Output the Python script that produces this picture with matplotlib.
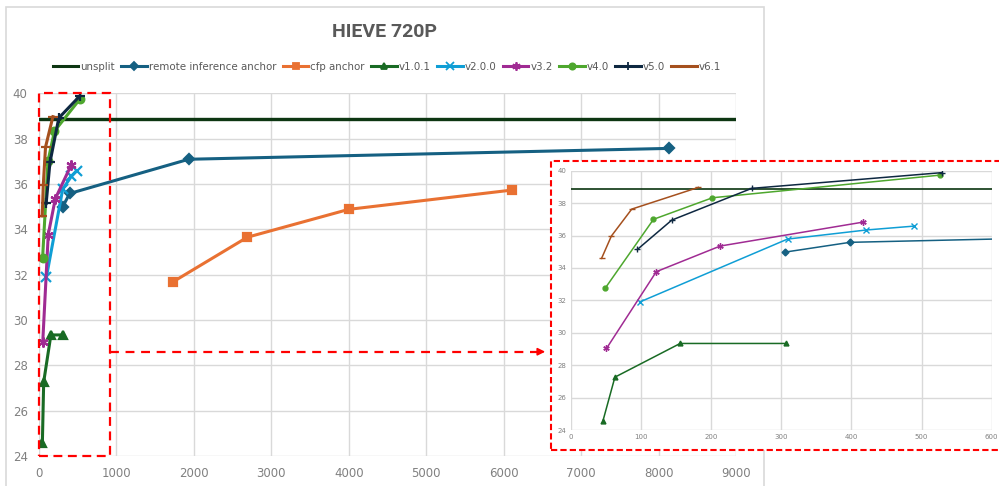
import matplotlib
matplotlib.use("Agg")
import matplotlib.pyplot as plt
from matplotlib.lines import Line2D
from matplotlib.patches import Rectangle

# series data (x, psnr)
unsplit_x = [0, 9000]
unsplit_y = [38.85, 38.85]
remote_x = [306, 398, 1934, 8132]
remote_y = [34.98, 35.58, 37.09, 37.57]
cfp_x = [1735, 2690, 3999, 6102]
cfp_y = [31.69, 33.65, 34.88, 35.73]
v101_x = [46, 63, 156, 307]
v101_y = [24.57, 27.26, 29.34, 29.34]
v200_x = [99, 309, 421, 489]
v200_y = [31.91, 35.78, 36.34, 36.58]
v32_x = [51, 122, 213, 417]
v32_y = [29.03, 33.77, 35.35, 36.83]
v40_x = [49, 118, 202, 527]
v40_y = [32.74, 37.0, 38.33, 39.73]
v50_x = [95, 144, 258, 529]
v50_y = [35.14, 36.95, 38.91, 39.88]
v61_x = [44, 58, 87, 182]
v61_y = [34.59, 35.97, 37.63, 38.97]

STAR = (6, 2, 0)
SERIES = [
    ("unsplit", unsplit_x, unsplit_y, "#0d3612", "_"),
    ("remote inference anchor", remote_x, remote_y, "#156082", "D"),
    ("cfp anchor", cfp_x, cfp_y, "#E97132", "s"),
    ("v1.0.1", v101_x, v101_y, "#196B24", "^"),
    ("v2.0.0", v200_x, v200_y, "#0F9ED5", "x"),
    ("v3.2", v32_x, v32_y, "#A02B93", STAR),
    ("v4.0", v40_x, v40_y, "#4EA72E", "o"),
    ("v5.0", v50_x, v50_y, "#0E2841", "+"),
    ("v6.1", v61_x, v61_y, "#A5501E", "_"),
]

W, H = 999, 486
TEXT_GREY = "#595959"
TICK_GREY = "#808080"
GRID = "#d9d9d9"
RED = "#ff0000"


def fx(px):
    return px / W


def fy(py):
    return 1 - py / H


def is_thin(marker):
    return marker in ("_", "+", "x") or marker == STAR


def draw_series(ax, lw, ms, mew):
    for label, xs, ys, color, marker in SERIES:
        if label == "unsplit":
            ax.plot(xs, ys, color=color, lw=lw * 1.1, zorder=3)
            continue
        size = ms * 1.3 if is_thin(marker) else ms
        ax.plot(xs, ys, color=color, lw=lw, marker=marker, markersize=size,
                markeredgewidth=mew, zorder=3)


def style_axes(ax, xmax, xstep, fontsize, pad):
    ax.set_xlim(0, xmax)
    ax.set_ylim(24, 40)
    ax.set_xticks(range(0, xmax + 1, xstep))
    ax.set_yticks(range(24, 41, 2))
    ax.grid(True, color=GRID, lw=1.0, zorder=0)
    ax.set_axisbelow(True)
    for s in ax.spines.values():
        s.set_visible(False)
    ax.tick_params(length=0, labelsize=fontsize, labelcolor=TICK_GREY, pad=pad)


fig = plt.figure(figsize=(W / 100, H / 100), dpi=100)
fig.patch.set_facecolor("white")

# Excel chart frame
fig.patches.append(Rectangle((fx(6), fy(492)), fx(758), 485 / H, transform=fig.transFigure,
                             fill=False, ec="#d9d9d9", lw=1.2, zorder=0))

ax = fig.add_axes([fx(38.8), fy(456), fx(697.5), (456 - 93.3) / H])
draw_series(ax, lw=2.2, ms=5.5, mew=1.6)
style_axes(ax, 9000, 1000, 8.5, 8)

# zoom box and arrow
ax.add_patch(Rectangle((0, 24), 920, 16, fill=False, ec=RED, lw=1.6, ls=(0, (4, 2.5)),
                       clip_on=False, zorder=4))
ax.plot([920, 6520], [28.6, 28.6], color=RED, lw=1.6, ls=(0, (4, 3)), clip_on=False, zorder=4)
ax.annotate("", xy=(6570, 28.6), xytext=(6400, 28.6),
            arrowprops=dict(arrowstyle="-|>", color=RED, lw=1.2, mutation_scale=11),
            annotation_clip=False, zorder=4)

# inset panel
fig.patches.append(Rectangle((fx(551), fy(449.5)), fx(460), (449.5 - 161) / H,
                             transform=fig.transFigure, fc="white", ec=RED, lw=1.5,
                             ls=(0, (3, 1.5)), zorder=1))

axin = fig.add_axes([fx(570.7), fy(430), fx(421), (430 - 170.7) / H], zorder=2)
axin.patch.set_alpha(0)
draw_series(axin, lw=1.1, ms=3.5, mew=1.0)
style_axes(axin, 600, 100, 5, 3)

# title and legend
fig.text(fx(385), fy(32), "HIEVE 720P", ha="center", va="center", fontsize=14,
         fontweight="bold", color=TEXT_GREY, family="Roboto")

handles = []
for label, xs, ys, color, marker in SERIES:
    size = 6 if is_thin(marker) else 4.5
    handles.append(Line2D([], [], color=color, lw=2.2, marker=marker, markersize=size,
                          markeredgewidth=1.3, label=label))
leg = fig.legend(handles=handles, loc="center", bbox_to_anchor=(fx(387), fy(67)), ncol=9,
                 frameon=False, fontsize=7.4, handlelength=2.5, handletextpad=0.2,
                 columnspacing=0.6, borderpad=0)
for t in leg.get_texts():
    t.set_color(TEXT_GREY)

fig.savefig("out.png", dpi=100, facecolor="white")
